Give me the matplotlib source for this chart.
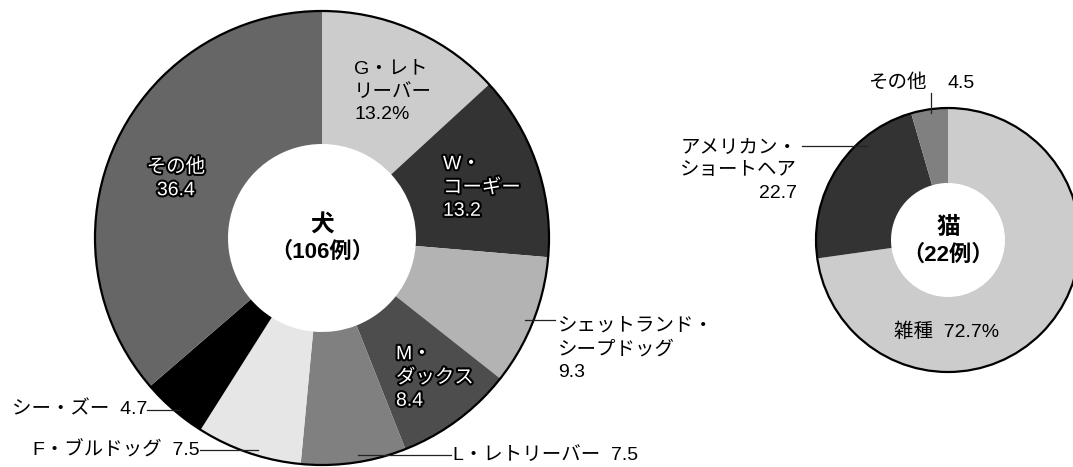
import matplotlib
matplotlib.use("Agg")
import matplotlib.pyplot as plt
import matplotlib.patheffects as pe
from matplotlib.patches import Circle

plt.rcParams['font.family'] = ['Liberation Sans', 'Noto Sans CJK JP', 'DejaVu Sans']

# 犬 (106例) : 時計回り、12時から
dog_names = ["G・レト\nリーバー", "W・\nコーギー", "シェットランド・\nシープドッグ", "M・\nダックス",
             "L・レトリーバー", "F・ブルドッグ", "シー・ズー", "その他"]
dog_vals = [13.2, 13.2, 9.3, 8.4, 7.5, 7.5, 4.7, 36.4]
dog_cols = ["#cccccc", "#333333", "#b3b3b3", "#4d4d4d", "#808080", "#e6e6e6", "#000000", "#666666"]

# 猫 (22例)
cat_names = ["雑種", "アメリカン・\nショートヘア", "その他"]
cat_vals = [72.7, 22.7, 4.5]
cat_cols = ["#cccccc", "#333333", "#808080"]

W, H = 1073, 467
fig = plt.figure(figsize=(W / 100, H / 100), dpi=100)
ax = fig.add_axes([0, 0, 1, 1])

FS = 14
LS = 1.44
white_fx = [pe.withStroke(linewidth=3, foreground="black")]


def donut(vals, cols, cx, cy, r, r_in):
    # y軸を下向きにしているので counterclock=True で画面上は時計回り
    ax.pie(vals, colors=cols, center=(cx, cy), radius=r, startangle=-90,
           counterclock=True, wedgeprops=dict(width=r - r_in, linewidth=0))
    ax.add_patch(Circle((cx, cy), r, fill=False, ec="black", lw=1.6, zorder=3))


donut(dog_vals, dog_cols, 322, 238, 227, 94)
donut(cat_vals, cat_cols, 948, 240, 132, 57)

ax.set_xlim(0, W)
ax.set_ylim(H, 0)
ax.set_aspect("equal")
ax.axis("off")


def lead(x0, x1, y0, y1=None):
    ax.plot([x0, x1], [y0, y0 if y1 is None else y1], color="#222222", lw=0.9, zorder=4)


# 犬のラベル
ax.text(354, 92, f"{dog_names[0]}\n{dog_vals[0]}%", fontsize=FS, ha="left", va="center", linespacing=LS)
ax.text(443, 188, f"{dog_names[1]}\n{dog_vals[1]}", fontsize=FS, ha="left", va="center",
        linespacing=LS, color="white", path_effects=white_fx)
ax.text(558, 349, f"{dog_names[2]}\n{dog_vals[2]}", fontsize=FS, ha="left", va="center", linespacing=LS)
lead(525, 555, 320)
ax.text(396, 378, f"{dog_names[3]}\n{dog_vals[3]}", fontsize=FS, ha="left", va="center",
        linespacing=LS, color="white", path_effects=white_fx)
ax.text(453, 455, f"{dog_names[4]}  {dog_vals[4]}", fontsize=FS, ha="left", va="center")
lead(358, 451, 455)
ax.text(200, 450, f"{dog_names[5]}  {dog_vals[5]}", fontsize=FS, ha="right", va="center")
lead(200, 258, 450)
ax.text(147, 410, f"{dog_names[6]}  {dog_vals[6]}", fontsize=FS, ha="right", va="center")
lead(147, 180, 410)
ax.text(176, 179, f"{dog_names[7]}\n{dog_vals[7]}", fontsize=FS, ha="center", va="center",
        linespacing=LS, color="white", path_effects=white_fx)

ax.text(322, 225, "犬", fontsize=17, ha="center", va="center", fontweight="bold")
ax.text(322, 252, "（106例）", fontsize=16, ha="center", va="center", fontweight="bold")

# 猫のラベル
ax.text(947, 332, f"{cat_names[0]}  {cat_vals[0]}%", fontsize=FS, ha="center", va="center")
ax.text(797, 171, f"{cat_names[1]}\n{cat_vals[1]}", fontsize=FS, ha="right", va="center",
        multialignment="right", linespacing=LS)
lead(802, 867, 146)
ax.text(927, 83, cat_names[2], fontsize=FS, ha="right", va="center")
ax.text(948, 83, f"{cat_vals[2]}", fontsize=FS, ha="left", va="center")
lead(931, 931, 93, 113)

ax.text(948, 227, "猫", fontsize=17, ha="center", va="center", fontweight="bold")
ax.text(948, 255, "（22例）", fontsize=16, ha="center", va="center", fontweight="bold")

fig.savefig("out.png", dpi=100)
